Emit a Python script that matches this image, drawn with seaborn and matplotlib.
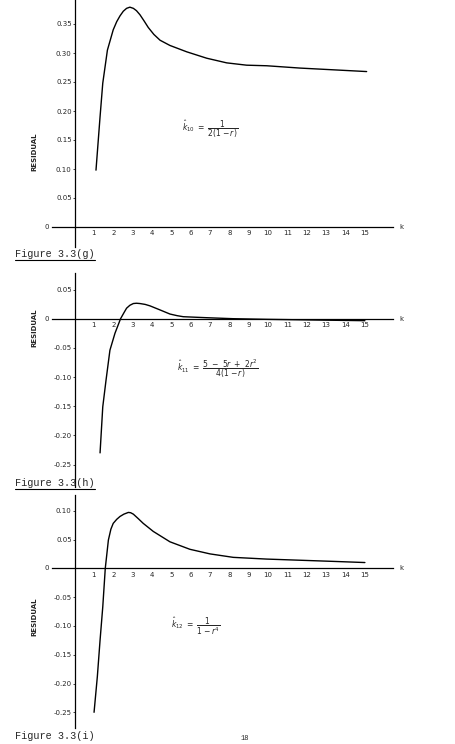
import matplotlib
matplotlib.use("Agg")
import matplotlib.pyplot as plt
import seaborn as sns

# residual curves (k, residual)
k_g = [1.11, 1.32, 1.46, 1.70, 2.0, 2.18, 2.35, 2.52, 2.69, 2.86, 3.04, 3.2, 3.38,
       3.6, 3.81, 4.1, 4.42, 4.93, 5.80, 6.83, 7.86, 8.89, 9.93, 11.65, 13.37, 15.09]
res_g = [0.098, 0.190, 0.248, 0.305, 0.340, 0.354, 0.364, 0.372, 0.377, 0.379,
         0.377, 0.373, 0.366, 0.355, 0.344, 0.332, 0.322, 0.313, 0.302, 0.291,
         0.283, 0.279, 0.278, 0.274, 0.271, 0.268]

k_h = [1.32, 1.46, 1.63, 1.83, 2.09, 2.38, 2.55, 2.69, 2.86, 3.04, 3.2, 3.38,
       3.65, 3.90, 4.42, 4.93, 5.3, 5.62, 6.83, 8.2, 9.93, 12.5, 15.0]
res_h = [-0.230, -0.151, -0.105, -0.054, -0.025, 0.0, 0.010, 0.018, 0.023,
         0.026, 0.0265, 0.026, 0.0245, 0.022, 0.015, 0.008, 0.0052, 0.0034,
         0.0017, 0.0, -0.0011, -0.0023, -0.0034]

k_i = [1.01, 1.18, 1.32, 1.46, 1.59, 1.75, 1.88, 2.0, 2.18, 2.35, 2.55, 2.78,
       2.9, 3.04, 3.3, 3.55, 4.07, 4.93, 5.96, 7.0, 8.2, 9.93, 11.65, 13.37, 15.0]
res_i = [-0.250, -0.188, -0.125, -0.067, 0.0, 0.049, 0.068, 0.078, 0.085, 0.090,
         0.094, 0.097, 0.0965, 0.094, 0.086, 0.078, 0.064, 0.046, 0.033, 0.025,
         0.019, 0.016, 0.014, 0.012, 0.010]

k_ticks = list(range(1, 16))
yticks_g = [0.05, 0.10, 0.15, 0.20, 0.25, 0.30, 0.35]
yticks_h = [0.05, -0.05, -0.10, -0.15, -0.20, -0.25]
yticks_i = [0.10, 0.05, -0.05, -0.10, -0.15, -0.20, -0.25]

formula_g = r"$\hat{k}_{10}\ =\ \dfrac{1}{2(1-r)}$"
formula_h = r"$\hat{k}_{11}\ =\ \dfrac{5\ -\ 5r\ +\ 2r^2}{4(1-r)}$"
formula_i = r"$\hat{k}_{12}\ =\ \dfrac{1}{1-r^4}$"

label_txt = ["Figure 3.3(g)", "Figure 3.3(h)", "Figure 3.3(i)"]

sns.set_style("white")
plt.rcParams["font.family"] = ["DejaVu Sans"]
plt.rcParams["mathtext.fontset"] = "dejavusans"

W, H = 455, 744
fig = plt.figure(figsize=(W / 100, H / 100), dpi=100)

# pixel geometry of the scanned page
X0, PX_PER_K = 74.5, 19.36
XL, XR = 52, 393


def panel(idx, top, bottom, zero, px_per_unit, k, res, yticks, formula, fpos,
          label_y, resid_y, underline):
    ax = fig.add_axes([XL / W, 1 - bottom / H, (XR - XL) / W, (bottom - top) / H])
    ax.set_facecolor("none")
    ax.set_xlim((XL - X0) / PX_PER_K, (XR - X0) / PX_PER_K)
    ax.set_ylim(-(bottom - zero) / px_per_unit, (zero - top) / px_per_unit)
    sns.lineplot(x=k, y=res, ax=ax, color="black", lw=1.0, sort=False, estimator=None)
    for s in ["top", "right"]:
        ax.spines[s].set_visible(False)
    ax.spines["left"].set_position(("data", 0))
    ax.spines["bottom"].set_position(("data", 0))
    for s in ["left", "bottom"]:
        ax.spines[s].set_linewidth(0.9)
        ax.spines[s].set_color("black")
    ax.set_xticks(k_ticks)
    ax.set_xticklabels([str(v) for v in k_ticks], fontsize=5)
    ax.tick_params(axis="x", length=0, pad=2.5)
    ax.set_yticks(yticks)
    ax.set_yticklabels([f"{v:.2f}" for v in yticks], fontsize=5)
    ax.tick_params(axis="y", direction="out", length=1.5, width=0.6, pad=0.5, left=True)
    ax.set_xlabel("")
    ax.set_ylabel("")
    xmin, xmax = ax.get_xlim()
    ax.text(xmin - 0.15, 0, "0", fontsize=5, ha="right", va="center")
    ax.text(xmax + 0.35, 0, "k", fontsize=5, ha="left", va="center")
    ax.text(fpos[0], fpos[1], formula, fontsize=5.5, ha="left", va="center")
    fig.text(34 / W, 1 - resid_y / H, "RESIDUAL", rotation=90, fontsize=5,
             fontweight="bold", ha="center", va="center")
    fig.text(15 / W, 1 - label_y / H, label_txt[idx], fontsize=7.3,
             family="Liberation Mono", ha="left", va="center")
    if underline:
        fig.add_artist(plt.Line2D([15 / W, 95 / W], [1 - (label_y + 6) / H] * 2,
                                  color="black", lw=0.8))
    return ax


panel(0, 0, 247, 227, 580, k_g, res_g, yticks_g, formula_g, (5.55, 0.168), 254, 152, True)
panel(1, 273, 487, 318.7, 583.4, k_h, res_h, yticks_h, formula_h, (5.29, -0.085), 483, 328, True)
panel(2, 495, 728, 568.3, 576, k_i, res_i, yticks_i, formula_i, (4.98, -0.100), 736, 617, False)

# page number at the foot of the page
fig.text(245 / W, 1 - 739 / H, "18", fontsize=5, family="Liberation Mono",
         ha="center", va="center")

fig.savefig("out.png", dpi=100)
